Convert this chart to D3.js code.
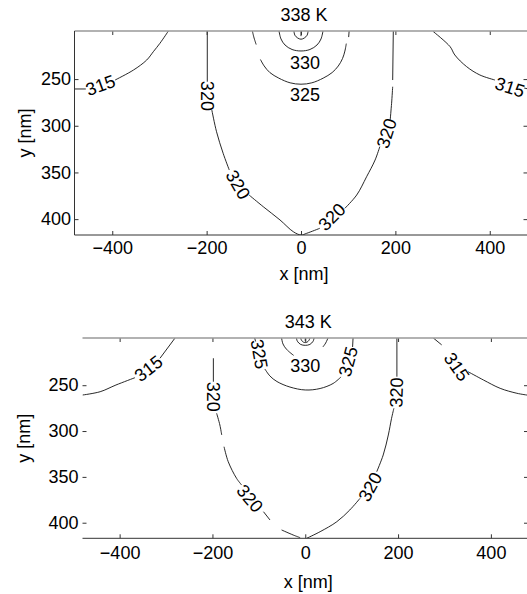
<!DOCTYPE html>
<html><head><meta charset="utf-8">
<script src="https://cdn.jsdelivr.net/npm/d3@7"></script>
<style>
body{margin:0;background:#fff}
svg{display:block}
text{font-family:"Liberation Sans",Arial,Helvetica,sans-serif;fill:#000}
</style>
</head><body>
<svg id="chart" width="527" height="594"></svg>
<script>
// ---------- data ----------
const titles = ["338 K", "343 K"];
const xLabel = "x [nm]";
const yLabel = "y [nm]";
const xTicks = [-400, -200, 0, 200, 400];
const yTicks = [250, 300, 350, 400];
const xDomain = [-480, 480];
const yDomain = [198.5, 417];

// Panel A (338 K) contour segments, points are [x nm, y nm]
const a315 = [
  [[-479,260.6],[-456,260.6]],
  [[-394,251],[-355,240.3],[-327,229.6],[-313,220.7],[-299,211.7],[-281,198.5]],
  [[280,199],[316,215.3],[326,224.2],[351,236.7],[379,245.6],[411,251]],
  [[473,259.6],[481,260.5]]
];
const a320 = [
  [[-198.6,198.5],[-198.6,252.8]],
  [[-189,283.1],[-179,306.4],[-165,329.5],[-152,347.4]],
  [[-110,374.2],[-80,386.7],[-44.5,400.9],[-16.3,413.5],[0,417],[12,415.2],[40,409.8]],
  [[93,388.4],[118,374.2],[139,354.6],[157,336.7],[167,322.4]],
  [[189,293.8],[192,275.9],[194.3,258.2]],
  [[194.3,251],[195.6,198.5]]
];
const a325 = [
  [[-103,198.5],[-100,205],[-95,213]],
  [[-86,229],[-78,236],[-66,243],[-47,249],[-23,254],[0,255.5],[23,254],[47,249],[66,243],[79,236],[88,228],[93,220],[96,212]],
  [[101,205],[102,198.5]]
];
const a330 = [
  [[-46.6,198.5],[-42.4,207],[-33.9,213.5],[-19,218.3],[0,219.9],[19,218.3],[33.9,213.5],[42.4,207],[46.6,198.5]]
];
const a335 = [
  [[-15,198.5],[-13,203],[-7,206],[0,207.3],[7,206],[13,203],[15,198.5]],
  [[0,198.5],[0,204]]
];
// contour labels: [text, x nm, y nm, angle deg]
const aLabels = [
  ["315", -425, 256.4, -20],
  ["315", 443, 258.5, 18],
  ["320", -198.3, 268, 90],
  ["320", -133, 363, 60],
  ["320", 65, 397.4, -45],
  ["320", 181, 308, -72],
  ["330", 8.5, 232, 0],
  ["325", 8.5, 267, 0]
];

// Panel B (343 K)
const b315 = [
  [[-480,260.7],[-442,257.1],[-408,249.8],[-367,241.8]],
  [[-313,220.6],[-281,198.8]],
  [[276,198.5],[294,206]],
  [[351,235.3],[384,244.3],[420,253.4],[456,258.8],[480,260.9]]
];
const b320 = [
  [[-198,220.6],[-198,246.2]],
  [[-191,280.6],[-184,293.4],[-180,304.3]],
  [[-175,317.1],[-166,333.4],[-148,351.6],[-137,358.9]],
  [[-90,388],[-76,397]],
  [[-51,407.9],[-26,413.4],[-11,416.3]],
  [[3,417],[32,409.8],[68,398.9],[96,386.1],[118,373.4]],
  [[154,344.4],[168,326.1],[179,304.3],[186,286.1],[191,275.2]],
  [[197.5,240.7],[197.5,198.5]]
];
const b325 = [
  [[-109,198.5],[-107,202.3]],
  [[-87,232.3],[-76,240],[-61,246],[-33,252],[0,255.2],[32,253.6],[60,248.1],[77,241]],
  [[102,208.3],[103,198.5]]
];
const b330 = [
  [[-51,198.5],[-48,205],[-40,211],[-25,217.5]],
  [[38,208.3],[44,204],[49,198.5]]
];
const b335 = [
  [[-19,198.5],[-17,202],[-10,205.5],[0,206.5],[10,205.5],[17,202],[19,198.5]],
  [[-10,198.5],[-8,201],[-4,203],[0,203.5],[4,203],[8,201],[10,198.5]],
  [[0,198.5],[0,202]]
];
const bLabels = [
  ["315", -338, 231.6, -38],
  ["315", 327, 229.8, 55],
  ["320", -198, 262.5, 90],
  ["320", -119, 373.4, 50],
  ["320", 139.5, 360.7, -61],
  ["320", 196, 258, -88],
  ["325", -98.6, 216, 80],
  ["325", 92, 224.1, -75],
  ["330", 0, 228.5, 0]
];

// ---------- layout ----------
const panels = [
  {title: titles[0], lines: [a315, a320, a325, a330, a335], labels: aLabels,
   x0: 74.5, x1: 527.5, y0: 31, y1: 235, leftLine: true,
   titleY: 21, xLabY: 280, yLabX: 31, padX: 6.2, padY: 3.5},
  {title: titles[1], lines: [b315, b320, b325, b330, b335], labels: bLabels,
   x0: 82.5, x1: 528, y0: 338, y1: 538.3, leftLine: false,
   titleY: 328, xLabY: 588, yLabX: 30, padX: 8, padY: 4}
];

const svg = d3.select("#chart");
const FS = 18;

panels.forEach((p, i) => {
  const x = d3.scaleLinear().domain(xDomain).range([p.x0, p.x1]);
  const y = d3.scaleLinear().domain(yDomain).range([p.y0, p.y1]);
  const g = svg.append("g");

  const clipId = "clip" + i;
  svg.append("clipPath").attr("id", clipId).append("rect")
    .attr("x", p.x0).attr("y", p.y0).attr("width", p.x1 - p.x0).attr("height", p.y1 - p.y0);

  // contours
  const line = d3.line().x(d => x(d[0])).y(d => y(d[1])).curve(d3.curveCatmullRom.alpha(0.5));
  const cg = g.append("g").attr("clip-path", `url(#${clipId})`);
  p.lines.forEach(level => {
    level.forEach(seg => {
      cg.append("path").attr("d", line(seg))
        .attr("fill", "none").attr("stroke", "#111").attr("stroke-width", 0.9);
    });
  });

  // contour labels
  g.append("g").selectAll("text").data(p.labels).join("text")
    .attr("transform", d => `translate(${x(d[1])},${y(d[2])}) rotate(${d[3]})`)
    .attr("text-anchor", "middle").attr("dy", "0.36em")
    .style("font-size", FS + "px")
    .text(d => d[0]);

  // axes (inward ticks)
  const xb = g.append("g").attr("transform", `translate(0,${p.y1})`)
    .call(d3.axisBottom(x).tickValues(xTicks).tickSize(-4).tickSizeOuter(0).tickPadding(p.padX));
  const xt = g.append("g").attr("transform", `translate(0,${p.y0})`)
    .call(d3.axisTop(x).tickValues(xTicks).tickSize(-4).tickSizeOuter(0).tickFormat(""));
  const yl = g.append("g").attr("transform", `translate(${p.x0},0)`)
    .call(d3.axisLeft(y).tickValues(yTicks).tickSize(-4).tickSizeOuter(0).tickPadding(p.padY));
  const yr = g.append("g").attr("transform", `translate(${p.x1},0)`)
    .call(d3.axisRight(y).tickValues(yTicks).tickSize(-4).tickSizeOuter(0).tickFormat(""));
  [xb, xt, yl, yr].forEach(a => {
    a.select(".domain").remove();
    a.selectAll(".tick line").attr("stroke", "#333");
    a.selectAll("text").style("font-size", FS + "px")
      .style("font-family", '"Liberation Sans",Arial,sans-serif').attr("fill", "#000");
  });

  // frame lines
  g.append("line").attr("x1", p.x0).attr("x2", p.x1).attr("y1", p.y0).attr("y2", p.y0)
    .attr("stroke", "#999").attr("stroke-width", 1.6);
  g.append("line").attr("x1", p.x0).attr("x2", p.x1).attr("y1", p.y1).attr("y2", p.y1)
    .attr("stroke", "#333").attr("stroke-width", 1);
  if (p.leftLine) {
    g.append("line").attr("x1", p.x0).attr("x2", p.x0).attr("y1", p.y0).attr("y2", p.y1)
      .attr("stroke", "#333").attr("stroke-width", 1);
  }

  // titles and axis labels
  g.append("text").attr("x", x(0) + 3).attr("y", p.titleY).attr("text-anchor", "middle")
    .style("font-size", FS + "px").text(p.title);
  g.append("text").attr("x", x(0) + 3).attr("y", p.xLabY).attr("text-anchor", "middle")
    .style("font-size", FS + "px").text(xLabel);
  g.append("text").attr("transform", `translate(${p.yLabX},${(p.y0 + p.y1) / 2}) rotate(-90)`)
    .attr("text-anchor", "middle").style("font-size", FS + "px").text(yLabel);
});
</script>
</body></html>
